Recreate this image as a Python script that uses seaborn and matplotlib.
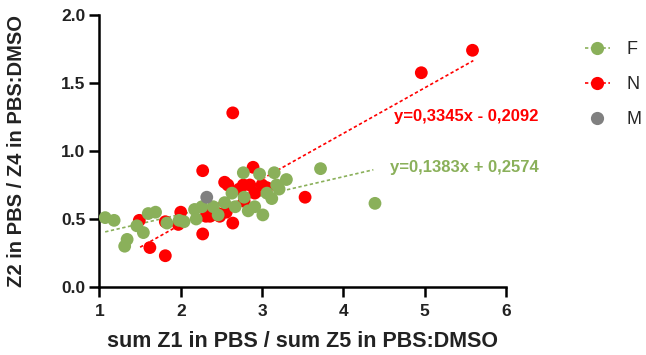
import numpy as np
import pandas as pd
import seaborn as sns
import matplotlib.pyplot as plt
from matplotlib.lines import Line2D

sns.set_theme(style="ticks")
plt.rcParams['font.family'] = ['Liberation Sans', 'DejaVu Sans']

# F group (green)
f_x = [1.07, 1.18, 1.31, 1.34, 1.46, 1.54, 1.60, 1.69, 1.83, 1.98, 2.04, 2.17, 2.19,
       2.26, 2.40, 2.46, 2.54, 2.63, 2.67, 2.77, 2.78, 2.83, 2.91, 2.97, 3.01, 3.06,
       3.12, 3.15, 3.18, 3.21, 3.30, 3.72, 4.39]
f_y = [0.51, 0.49, 0.30, 0.35, 0.45, 0.40, 0.54, 0.55, 0.47, 0.49, 0.48, 0.57, 0.50,
       0.59, 0.59, 0.53, 0.62, 0.69, 0.59, 0.84, 0.66, 0.56, 0.59, 0.83, 0.53, 0.69,
       0.65, 0.84, 0.75, 0.72, 0.79, 0.87, 0.615]

# N group (red)
n_x = [1.49, 1.62, 1.81, 1.81, 1.97, 2.00, 2.27, 2.27, 2.31, 2.36, 2.38, 2.46, 2.48,
       2.54, 2.58, 2.56, 2.64, 2.64, 2.72, 2.77, 2.78, 2.85, 2.89, 2.91, 3.00, 3.06,
       3.53, 4.96, 5.59]
n_y = [0.49, 0.29, 0.23, 0.48, 0.46, 0.55, 0.855, 0.39, 0.52, 0.52, 0.53, 0.54, 0.52,
       0.77, 0.75, 0.55, 1.28, 0.47, 0.72, 0.75, 0.63, 0.75, 0.88, 0.69, 0.75, 0.73,
       0.66, 1.575, 1.74]

# M group (grey)
m_x = [2.32]
m_y = [0.66]

# linear fits shown in the chart
f_slope, f_icpt = 0.1383, 0.2574
n_slope, n_icpt = 0.3345, -0.2092
f_range = [1.07, 4.37]
n_range = [1.50, 5.60]

green = "#8AB05A"
red = "#FF0000"
grey = "#808080"

df = pd.DataFrame({
    "x": n_x + f_x + m_x,
    "y": n_y + f_y + m_y,
    "group": ["N"] * len(n_x) + ["F"] * len(f_x) + ["M"] * len(m_x),
})

fig = plt.figure(figsize=(6.46, 3.55), dpi=100)
ax = fig.add_axes([0.154, 0.1915, 0.629, 0.7665])

for g, c in [("N", red), ("F", green), ("M", grey)]:
    sns.scatterplot(data=df[df.group == g], x="x", y="y", color=c, s=85,
                    edgecolor="none", ax=ax, zorder=3)

fx = np.array(f_range)
nx = np.array(n_range)
ax.plot(nx, n_slope * nx + n_icpt, ls=(0, (2, 1.5)), color=red, lw=1.2, zorder=2)
ax.plot(fx, f_slope * fx + f_icpt, ls=(0, (2, 1.5)), color=green, lw=1.2, zorder=2)

ax.text(4.63, 1.25, "y=0,3345x - 0,2092", color=red, fontsize=12, fontweight="bold",
        ha="left", va="center")
ax.text(4.57, 0.88, "y=0,1383x + 0,2574", color=green, fontsize=12, fontweight="bold",
        ha="left", va="center")

ax.set_xlim(1, 6)
ax.set_ylim(0, 2)
ax.set_xticks([1, 2, 3, 4, 5, 6])
ax.set_yticks([0, 0.5, 1.0, 1.5, 2.0])
ax.set_yticklabels(["0.0", "0.5", "1.0", "1.5", "2.0"])
for lab in ax.get_xticklabels() + ax.get_yticklabels():
    lab.set_fontweight("bold")
ax.tick_params(axis="both", labelsize=12.5, width=1.8, length=7, color="black",
               labelcolor="#222222")
ax.tick_params(axis="x", pad=5)
ax.tick_params(axis="y", pad=3)
for s in ["left", "bottom"]:
    ax.spines[s].set_linewidth(1.8)
    ax.spines[s].set_color("black")
sns.despine(ax=ax)

ax.set_xlabel("sum Z1 in PBS / sum Z5 in PBS:DMSO", fontsize=15.5, fontweight="bold",
              color="#222222", labelpad=9)
ax.set_ylabel("Z2 in PBS / Z4 in PBS:DMSO", fontsize=14.5, fontweight="bold",
              color="#222222", labelpad=25)

handles = [
    Line2D([], [], color=green, ls=(0, (2, 1.5)), lw=1.2, marker="o", markersize=9.5,
           markeredgecolor="none"),
    Line2D([], [], color=red, ls=(0, (2, 1.5)), lw=1.2, marker="o", markersize=9.5,
           markeredgecolor="none"),
    Line2D([], [], color=grey, ls="none", marker="o", markersize=9.5,
           markeredgecolor="none"),
]
fig.legend(handles, ["F", "N", "M"], loc="upper left", bbox_to_anchor=(0.88, 0.93),
           frameon=False, fontsize=13, handlelength=1.4, handletextpad=0.9,
           labelspacing=1.0)

fig.savefig("out.png", dpi=100)
